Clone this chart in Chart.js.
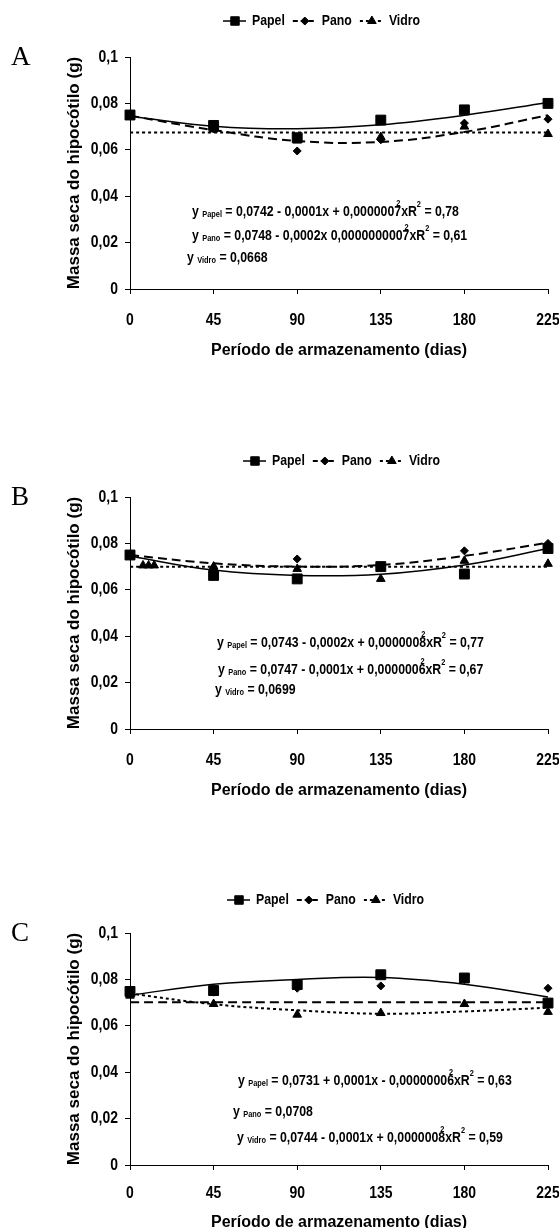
<!DOCTYPE html>
<html>
<head>
<meta charset="utf-8">
<script src="https://cdn.jsdelivr.net/npm/chart.js@4.4.0/dist/chart.umd.min.js"></script>
<style>
  body { margin: 0; background: #fff; overflow: hidden; }
  canvas { position: absolute; left: 0; }
</style>
</head>
<body>
<canvas id="chartA" width="559" height="360" style="top:0px"></canvas>
<canvas id="chartB" width="559" height="360" style="top:440px"></canvas>
<canvas id="chartC" width="559" height="360" style="top:876px"></canvas>
<script>
// storage time (days) and axis ticks
const days = [0, 45, 90, 135, 180, 225];
const xTicks = [0, 45, 90, 135, 180, 225];
const xTickLabels = ['0', '45', '90', '135', '180', '225'];
const yTicks = [0, 0.02, 0.04, 0.06, 0.08, 0.1];
const yTickLabels = ['0', '0,02', '0,04', '0,06', '0,08', '0,1'];
const seriesNames = ['Papel', 'Pano', 'Vidro'];

// panel A - observed values
const papelA = [0.0750, 0.0705, 0.0652, 0.0728, 0.0772, 0.0800];
const panoA = [0.0748, 0.0690, 0.0595, 0.0643, 0.0715, 0.0732];
const vidroA = [0.0745, 0.0688, 0.0640, 0.0655, 0.0700, 0.0668];
// panel A - fitted curves
const papelFitA = [0.0745, 0.0702, 0.0691, 0.0708, 0.0749, 0.0804];
const panoFitA = [0.0747, 0.0685, 0.0638, 0.0634, 0.0677, 0.0749];
const vidroFitA = [0.0675, 0.0675, 0.0675, 0.0675, 0.0675, 0.0675];

// panel B - observed values
const papelB = [0.0750, 0.0662, 0.0647, 0.0700, 0.0668, 0.0778];
const panoB = [0.0748, 0.0685, 0.0733, 0.0700, 0.0768, 0.0800];
const vidroDaysB = [7, 10, 13, 45, 90, 135, 180, 225];
const vidroB = [0.0705, 0.0705, 0.0705, 0.0700, 0.0690, 0.0647, 0.0725, 0.0712];
// panel B - fitted curves
const papelFitB = [0.0745, 0.0685, 0.0662, 0.0667, 0.0707, 0.0778];
const panoFitB = [0.0750, 0.0714, 0.0700, 0.0707, 0.0746, 0.0803];
const vidroFitB = [0.0699, 0.0699, 0.0699, 0.0699, 0.0699, 0.0699];

// panel C - observed values
const papelC = [0.0748, 0.0752, 0.0778, 0.0820, 0.0806, 0.0698];
const panoC = [0.0740, 0.0745, 0.0762, 0.0772, 0.0800, 0.0762];
const vidroC = [0.0730, 0.0694, 0.0648, 0.0655, 0.0694, 0.0660];
// panel C - fitted curves
const papelFitC = [0.0732, 0.0779, 0.0800, 0.0808, 0.0779, 0.0724];
const panoFitC = [0.0702, 0.0702, 0.0702, 0.0702, 0.0702, 0.0702];
const vidroFitC = [0.0739, 0.0693, 0.0667, 0.0652, 0.0662, 0.0678];

// regression equations: [text, kind]
const eqA = [
  [['y ', 'n'], ['Papel', 'sub'], [' = 0,0742 - 0,0001x + 0,0000007', 'n'], ['2', 'over'], ['xR', 'n'], ['2', 'sup'], [' = 0,78', 'n']],
  [['y ', 'n'], ['Pano', 'sub'], [' = 0,0748 - 0,0002x 0,0000000007', 'n'], ['2', 'over'], ['xR', 'n'], ['2', 'sup'], [' = 0,61', 'n']],
  [['y ', 'n'], ['Vidro', 'sub'], [' = 0,0668', 'n']]
];
const eqB = [
  [['y ', 'n'], ['Papel', 'sub'], [' = 0,0743 - 0,0002x + 0,0000008', 'n'], ['2', 'over'], ['xR', 'n'], ['2', 'sup'], [' = 0,77', 'n']],
  [['y ', 'n'], ['Pano', 'sub'], [' = 0,0747 - 0,0001x + 0,0000006', 'n'], ['2', 'over'], ['xR', 'n'], ['2', 'sup'], [' = 0,67', 'n']],
  [['y ', 'n'], ['Vidro', 'sub'], [' = 0,0699', 'n']]
];
const eqC = [
  [['y ', 'n'], ['Papel', 'sub'], [' = 0,0731 + 0,0001x - 0,00000006', 'n'], ['2', 'over'], ['xR', 'n'], ['2', 'sup'], [' = 0,63', 'n']],
  [['y ', 'n'], ['Pano', 'sub'], [' = 0,0708', 'n']],
  [['y ', 'n'], ['Vidro', 'sub'], [' = 0,0744 - 0,0001x + 0,0000008', 'n'], ['2', 'over'], ['xR', 'n'], ['2', 'sup'], [' = 0,59', 'n']]
];

const SANS = '"Liberation Sans", Arial, sans-serif';
const SQUEEZE = 0.82; // the original labels use a condensed face

const styles = {
  Papel: { dash: [], legendDash: [], width: 1.5, point: 'rect', radius: 7, legendRadius: 6 },
  Pano: { dash: [9, 5], legendDash: [5, 3], width: 2, point: 'rectRot', radius: 4, legendRadius: 4 },
  Vidro: { dash: [3, 3], legendDash: [3, 3], width: 2, point: 'triangle', radius: 5, legendRadius: 5 }
};

function pts(xs, ys) {
  return ys.map((v, i) => ({ x: xs[i], y: v }));
}

// condensed text: returns drawn width
function nText(ctx, txt, x, y, align) {
  const w = ctx.measureText(txt).width * SQUEEZE;
  let x0 = x;
  if (align === 'center') x0 = x - w / 2;
  if (align === 'right') x0 = x - w;
  ctx.save();
  ctx.translate(x0, y);
  ctx.scale(SQUEEZE, 1);
  ctx.textAlign = 'left';
  ctx.fillText(txt, 0, 0);
  ctx.restore();
  return w;
}

// draws one equation made of normal, subscript and superscript parts
function drawEq(ctx, x, y, parts) {
  let cx = x;
  ctx.textBaseline = 'middle';
  parts.forEach(([txt, kind]) => {
    if (kind === 'sub') {
      ctx.font = 'bold 9px ' + SANS;
      cx += nText(ctx, txt, cx, y + 3);
    } else if (kind === 'over') {
      ctx.font = 'bold 9px ' + SANS;
      nText(ctx, txt, cx - 5, y - 8);
    } else if (kind === 'sup') {
      ctx.font = 'bold 9px ' + SANS;
      cx += nText(ctx, txt, cx, y - 7);
    } else {
      ctx.font = 'bold 15px ' + SANS;
      cx += nText(ctx, txt, cx, y);
    }
  });
}

const decor = {
  id: 'decor',
  afterDraw(chart, args, o) {
    const { ctx, chartArea, scales } = chart;
    ctx.save();
    ctx.fillStyle = '#000';
    ctx.strokeStyle = '#000';
    // tick labels, condensed
    ctx.font = 'bold 17px ' + SANS;
    ctx.textBaseline = 'middle';
    scales.x.ticks.forEach((t, i) => {
      nText(ctx, xTickLabels[i], scales.x.getPixelForValue(t.value), chartArea.bottom + o.labelGap, 'center');
    });
    scales.y.ticks.forEach((t, i) => {
      nText(ctx, yTickLabels[i], chartArea.left - 12, scales.y.getPixelForValue(t.value), 'right');
    });
    // panel letter
    ctx.font = '27px "Liberation Serif", "DejaVu Serif", serif';
    ctx.fillText(o.letter, 11, chartArea.top + 1);
    // legend
    let lx = o.legendX;
    const ly = o.legendY;
    seriesNames.forEach(name => {
      const st = styles[name];
      ctx.lineWidth = st.width;
      ctx.setLineDash(st.legendDash);
      ctx.beginPath();
      ctx.moveTo(lx, ly);
      ctx.lineTo(lx + 23, ly);
      ctx.stroke();
      ctx.setLineDash([]);
      ctx.lineWidth = 1;
      Chart.helpers.drawPoint(ctx, { pointStyle: st.point, radius: st.legendRadius, rotation: 0, borderWidth: 1 }, lx + 12, ly);
      ctx.font = 'bold 15px ' + SANS;
      ctx.textBaseline = 'middle';
      const w = nText(ctx, name, lx + 29, ly);
      lx += 29 + w + 8;
    });
    // equations
    o.equations.forEach((parts, i) => {
      const pos = o.eqPos[i];
      drawEq(ctx, chartArea.left + pos[0], chartArea.top + pos[1], parts);
    });
    ctx.restore();
  }
};

function buildDatasets(obs, fits) {
  const ds = [];
  seriesNames.forEach((name, k) => {
    const st = styles[name];
    ds.push({
      label: name + ' ajuste',
      data: pts(days, fits[k]),
      showLine: true,
      borderColor: '#000',
      borderWidth: st.width,
      borderDash: st.dash,
      pointRadius: 0,
      tension: 0.4,
      clip: false,
      order: 2
    });
    ds.push({
      label: name,
      data: pts(obs[k][0], obs[k][1]),
      showLine: false,
      pointStyle: st.point,
      pointRadius: st.radius,
      pointBackgroundColor: '#000',
      pointBorderColor: '#000',
      pointBorderWidth: 1,
      clip: false,
      order: 1
    });
  });
  return ds;
}

function makeChart(id, letter, obs, fits, equations, eqPos, legendX, legendY, labelGap, titlePad) {
  return new Chart(id, {
    type: 'scatter',
    data: { datasets: buildDatasets(obs, fits) },
    options: {
      responsive: false,
      animation: false,
      layout: { padding: { left: 0, right: 11, top: 57, bottom: 0 } },
      plugins: {
        legend: { display: false },
        tooltip: { enabled: false },
        decor: { letter, equations, eqPos, legendX, legendY, labelGap }
      },
      scales: {
        x: {
          type: 'linear',
          min: 0,
          max: 225,
          afterBuildTicks: s => { s.ticks = xTicks.map(v => ({ value: v })); },
          afterFit: s => { s.height = 71; s.paddingLeft = 0; s.paddingRight = 0; },
          grid: { display: true, drawOnChartArea: false, drawTicks: true, tickLength: 5, color: '#000' },
          border: { display: true, color: '#000', width: 1 },
          ticks: { color: 'rgba(0,0,0,0)', padding: 17, maxRotation: 0, autoSkip: false, font: { family: SANS, size: 14, weight: 'bold' } },
          title: { display: true, text: 'Período de armazenamento (dias)', color: '#000', padding: { top: 0, bottom: titlePad }, font: { family: SANS, size: 16, weight: 'bold' } }
        },
        y: {
          min: 0,
          max: 0.1,
          afterBuildTicks: s => { s.ticks = yTicks.map(v => ({ value: v })); },
          afterFit: s => { s.width = 130; },
          grid: { display: true, drawOnChartArea: false, drawTicks: true, tickLength: 5, color: '#000' },
          border: { display: true, color: '#000', width: 1 },
          ticks: { color: 'rgba(0,0,0,0)', padding: 7, callback: (v, i) => yTickLabels[i], font: { family: SANS, size: 14, weight: 'bold' } },
          title: { display: true, text: 'Massa seca do hipocótilo (g)', color: '#000', padding: { top: 64, bottom: 0 }, font: { family: SANS, size: 17, weight: 'bold' } }
        }
      }
    },
    plugins: [decor]
  });
}

makeChart('chartA', 'A',
  [[days, papelA], [days, panoA], [days, vidroA]],
  [papelFitA, panoFitA, vidroFitA],
  eqA, [[62, 155], [62, 179], [57, 201]], 223, 21, 31, 0);

makeChart('chartB', 'B',
  [[days, papelB], [days, panoB], [vidroDaysB, vidroB]],
  [papelFitB, panoFitB, vidroFitB],
  eqB, [[87, 146], [88, 173], [85, 193]], 243, 21, 31, 0);

makeChart('chartC', 'C',
  [[days, papelC], [days, panoC], [days, vidroC]],
  [papelFitC, panoFitC, vidroFitC],
  eqC, [[108, 148], [103, 179], [107, 205]], 227, 24, 28, 4);
</script>
</body>
</html>
